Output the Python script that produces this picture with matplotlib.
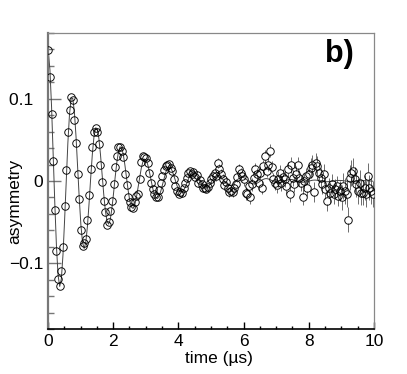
import numpy as np
import matplotlib
matplotlib.use("Agg")
import matplotlib.pyplot as plt
from matplotlib.ticker import MultipleLocator

plt.rcParams["font.family"] = ["Liberation Sans", "DejaVu Sans"]

# bin centres in microseconds (0.05 us bins)
time = np.round(0.01 + 0.05 * np.arange(200), 2)

# measured asymmetry, one row per microsecond
asym = [
    0.159, 0.127, 0.081, 0.024, -0.035, -0.085, -0.119, -0.128, -0.110, -0.080,
    -0.030, 0.013, 0.059, 0.086, 0.102, 0.098, 0.074, 0.046, 0.008, -0.022,
    -0.059, -0.079, -0.075, -0.070, -0.048, -0.017, 0.014, 0.041, 0.059, 0.065,
    0.059, 0.045, 0.019, -0.001, -0.024, -0.038, -0.053, -0.050, -0.037, -0.024,
    -0.004, 0.017, 0.030, 0.041, 0.041, 0.036, 0.029, 0.008, -0.005, -0.020,
    -0.026, -0.032, -0.033, -0.026, -0.018, -0.016, 0.002, 0.023, 0.030, 0.029,
    0.028, 0.022, 0.010, -0.003, -0.010, -0.016, -0.019, -0.020, -0.011, -0.002,
    0.006, 0.013, 0.018, 0.020, 0.021, 0.016, 0.012, 0.003, -0.006, -0.012,
    -0.016, -0.013, -0.015, -0.008, -0.002, 0.004, 0.010, 0.012, 0.008, 0.011,
    0.005, 0.007, -0.002, 0.001, -0.004, -0.008, -0.009, -0.010, -0.007, -0.003,
    0.003, 0.006, 0.010, 0.006, 0.022, 0.014, 0.008, 0.002, -0.005, -0.001,
    -0.008, -0.013, -0.012, -0.013, -0.009, -0.004, 0.005, 0.014, 0.010, 0.006,
    0.002, -0.015, -0.016, -0.006, -0.020, -0.004, 0.004, 0.014, 0.008, -0.003,
    0.010, -0.008, 0.018, 0.030, 0.012, 0.020, 0.037, 0.017, 0.002, -0.003,
    -0.005, 0.002, 0.010, -0.002, 0.005, 0.002, -0.006, 0.014, -0.016, 0.020,
    0.004, -0.004, 0.008, 0.020, 0.004, -0.002, -0.020, 0.000, 0.006, -0.008,
    0.008, 0.016, 0.020, -0.013, 0.022, 0.018, 0.010, 0.004, -0.004, 0.008,
    -0.010, -0.024, -0.008, -0.014, -0.004, -0.016, -0.010, -0.006, -0.018, -0.012,
    -0.020, -0.006, -0.012, -0.016, -0.047, 0.004, 0.010, 0.012, 0.002, -0.004,
    -0.012, -0.002, -0.014, -0.014, -0.008, -0.016, 0.006, -0.008, -0.012, -0.016,
]

# fitted curve at the same times
fit = [
    0.1580, 0.1350, 0.0899, 0.0319, -0.0281, -0.0798, -0.1148, -0.1282, -0.1189, -0.0898,
    -0.0471, 0.0012, 0.0465, 0.0812, 0.1000, 0.1006, 0.0840, 0.0540, 0.0166, -0.0216,
    -0.0538, -0.0749, -0.0820, -0.0747, -0.0550, -0.0272, 0.0038, 0.0323, 0.0536, 0.0646,
    0.0638, 0.0522, 0.0323, 0.0081, -0.0161, -0.0361, -0.0488, -0.0524, -0.0469, -0.0336,
    -0.0154, 0.0044, 0.0222, 0.0353, 0.0416, 0.0404, 0.0323, 0.0192, 0.0036, -0.0117,
    -0.0241, -0.0317, -0.0334, -0.0293, -0.0205, -0.0086, 0.0040, 0.0152, 0.0232, 0.0267,
    0.0255, 0.0199, 0.0114, 0.0013, -0.0084, -0.0160, -0.0206, -0.0213, -0.0183, -0.0124,
    -0.0047, 0.0033, 0.0103, 0.0152, 0.0172, 0.0161, 0.0123, 0.0066, 0.0002, -0.0059,
    -0.0106, -0.0133, -0.0135, -0.0114, -0.0075, -0.0025, 0.0026, 0.0070, 0.0099, 0.0110,
    0.0101, 0.0076, 0.0038, -0.0003, -0.0041, -0.0071, -0.0086, -0.0086, -0.0071, -0.0045,
    -0.0013, 0.0020, 0.0047, 0.0064, 0.0070, 0.0063, 0.0046, 0.0022, -0.0004, -0.0028,
    -0.0047, -0.0055, -0.0054, -0.0044, -0.0027, -0.0006, 0.0015, 0.0032, 0.0042, 0.0045,
    0.0040, 0.0028, 0.0012, -0.0005, -0.0020, -0.0031, -0.0035, -0.0034, -0.0027, -0.0016,
    -0.0002, 0.0011, 0.0021, 0.0028, 0.0029, 0.0025, 0.0017, 0.0007, -0.0004, -0.0014,
    -0.0020, -0.0023, -0.0021, -0.0017, -0.0009, -0.0001, 0.0008, 0.0014, 0.0018, 0.0018,
    0.0016, 0.0010, 0.0004, -0.0003, -0.0009, -0.0013, -0.0015, -0.0013, -0.0010, -0.0005,
    0.0000, 0.0005, 0.0009, 0.0011, 0.0011, 0.0009, 0.0006, 0.0002, -0.0002, -0.0006,
    -0.0008, -0.0009, -0.0008, -0.0006, -0.0003, 0.0000, 0.0004, 0.0005, 0.0007, 0.0007,
    0.0006, 0.0003, 0.0001, -0.0002, -0.0004, -0.0005, -0.0005, -0.0005, -0.0003, -0.0002,
    0.0000, 0.0002, 0.0003, 0.0004, 0.0004, 0.0003, 0.0002, 0.0000, -0.0001, -0.0002,
]

# statistical error, grows with time (one value per microsecond)
err_per_us = [0.0019, 0.0024, 0.0030, 0.0038, 0.0048, 0.0061, 0.0077, 0.0097, 0.0122, 0.0155]
err = np.repeat(err_per_us, 20)

asym = np.array(asym)

fig = plt.figure(figsize=(4.07, 3.74), dpi=100)
ax = fig.add_axes([0.1179, 0.1203, 0.801, 0.7915])

ax.plot(time, fit, color="#444444", lw=0.7, zorder=2)

# error bars stop at the marker edge, ROOT style
r = 0.0045
show = err > r
ax.vlines(time[show], asym[show] - err[show], asym[show] - r, color="#555555", lw=0.6, zorder=1)
ax.vlines(time[show], asym[show] + r, asym[show] + err[show], color="#555555", lw=0.6, zorder=1)

ax.plot(time, asym, "o", mfc="none", mec="black", ms=5.4, mew=0.65, zorder=3)

ax.set_xlim(0, 10)
ax.set_ylim(-0.18, 0.18)
ax.xaxis.set_major_locator(MultipleLocator(2))
ax.xaxis.set_minor_locator(MultipleLocator(0.5))
ax.set_yticks([-0.1, 0, 0.1])
ax.set_yticklabels(["\u22120.1", "0", "0.1  "])
ax.yaxis.set_minor_locator(MultipleLocator(0.02))

ax.tick_params(which="both", direction="in", top=False, right=False, labelsize=12.5)
ax.tick_params(axis="y", which="major", length=9.4, width=1, color="#777777", pad=3.5)
ax.tick_params(axis="y", which="minor", length=4.3, width=1, color="#777777")
ax.tick_params(axis="x", which="major", length=5, width=1, color="black", pad=3.5)
ax.tick_params(axis="x", which="minor", length=2.4, width=1, color="black")

ax.spines["left"].set_color("#777777")
ax.spines["left"].set_linewidth(1.6)
ax.spines["bottom"].set_color("black")
ax.spines["bottom"].set_linewidth(1.2)
for s in ["top", "right"]:
    ax.spines[s].set_color("#888888")
    ax.spines[s].set_linewidth(0.9)

ax.set_xlabel("time (\u00b5s)", fontsize=12.5, va="center")
ax.xaxis.set_label_coords(0.524, -0.098)
ax.set_ylabel("asymmetry", fontsize=12.5, va="center", ha="center")
ax.yaxis.set_label_coords(-0.101, 0.432)

ax.text(0.893, 0.929, "b)", transform=ax.transAxes, fontsize=22,
        fontweight="bold", ha="center", va="center")

fig.savefig("out.png", dpi=100)
